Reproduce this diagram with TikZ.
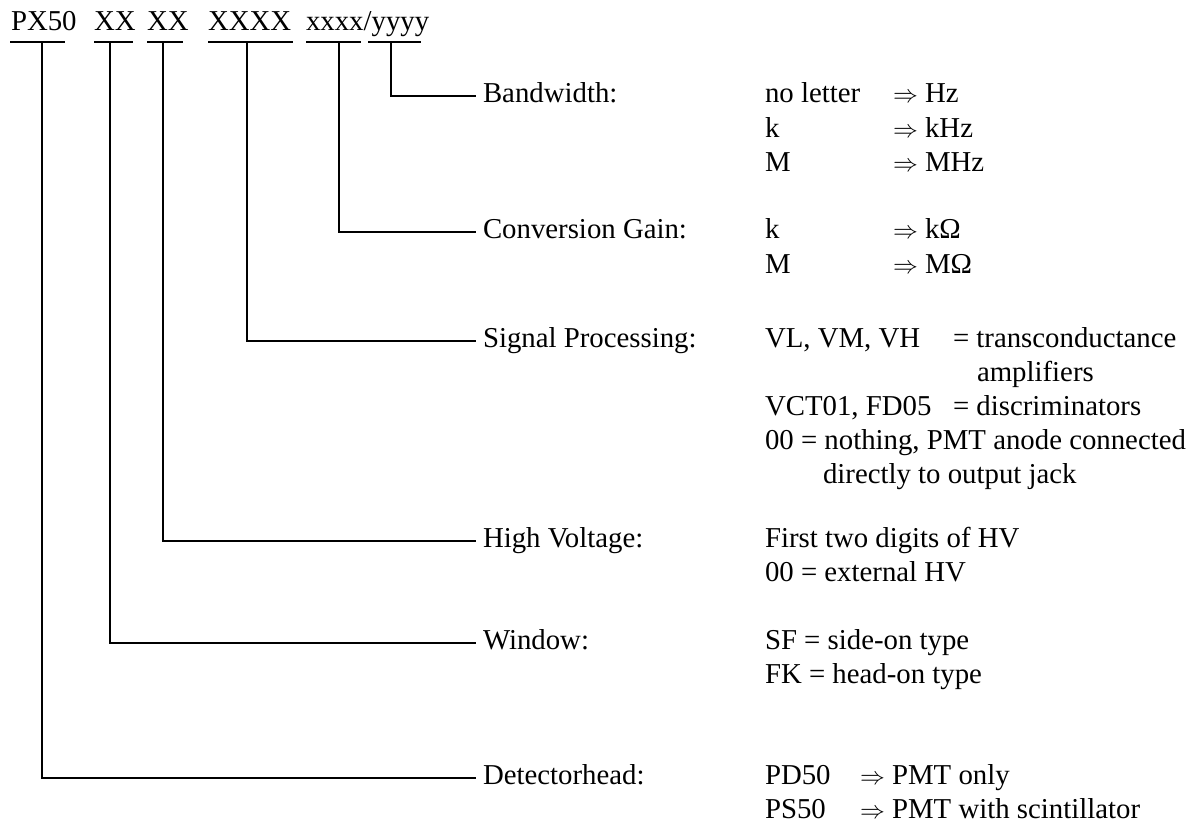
\documentclass[tikz,border=0pt]{standalone}
\usepackage{fontspec}
\setmainfont{Liberation Serif}
\begin{document}
\begin{tikzpicture}[x=1pt,y=-1pt,
  every node/.style={inner sep=0pt, outer sep=0pt, font=\fontsize{28.8}{34}\selectfont},
  hdr/.style={anchor=base west},
  lab/.style={anchor=west, inner xsep=8pt, text height=20pt, text depth=7pt},
  val/.style={anchor=base west},
  conn/.style={line width=1.6pt, line cap=rect},
  uline/.style={line width=1.6pt}]
\useasboundingbox (0,0) rectangle (1204,828);

% header
\node[hdr] (h1) at (11,30.7) {PX50};
\node[hdr] (h2) at (94,30.7) {XX};
\node[hdr] (h3) at (147,30.7) {XX};
\node[hdr] (h4) at (208,30.7) {XXXX};
\node[hdr] (h5) at (306,30.7) {xxxx/yyyy};

\draw[uline] (10,41.7) -- (65,41.7);
\draw[uline] (94,41.7) -- (133,41.7);
\draw[uline] (147,41.7) -- (183,41.7);
\draw[uline] (208,41.7) -- (293,41.7);
\draw[uline] (306,41.7) -- (361,41.7);
\draw[uline] (368,41.7) -- (421,41.7);

\coordinate (t1) at (42,41.7);
\coordinate (t2) at (110,41.7);
\coordinate (t3) at (163,41.7);
\coordinate (t4) at (247,41.7);
\coordinate (t5) at (339,41.7);
\coordinate (t6) at (391,41.7);

% labels
\node[lab] (bw) at (475,96) {Bandwidth:};
\node[lab] (cg) at (475,232) {Conversion Gain:};
\node[lab] (sp) at (475,341) {Signal Processing:};
\node[lab] (hv) at (475,541) {High Voltage:};
\node[lab] (wi) at (475,643) {Window:};
\node[lab] (dh) at (475,778) {Detectorhead:};

% connectors
\draw[conn] (t6) |- (bw.west);
\draw[conn] (t5) |- (cg.west);
\draw[conn] (t4) |- (sp.west);
\draw[conn] (t3) |- (hv.west);
\draw[conn] (t2) |- (wi.west);
\draw[conn] (t1) |- (dh.west);

% Bandwidth values
\node[val] (b1) at (765,102.5) {no letter};
\node[val] (b1r) at (893,102.5) {$\Rightarrow$ Hz};
\node[val] (b2) at (765,137.5) {k};
\node[val] (b2r) at (893,137.5) {$\Rightarrow$ kHz};
\node[val] (b3) at (765,171.5) {M};
\node[val] (b3r) at (893,171.5) {$\Rightarrow$ MHz};

% Conversion gain values
\node[val] (c1) at (765,238.5) {k};
\node[val] (c1r) at (893,238.5) {$\Rightarrow$ kΩ};
\node[val] (c2) at (765,273.5) {M};
\node[val] (c2r) at (893,273.5) {$\Rightarrow$ MΩ};

% Signal processing values
\node[val] (s1) at (765,347.5) {VL, VM, VH};
\node[val] (s1r) at (953,347.5) {= transconductance};
\node[val] (s2r) at (977,381.5) {amplifiers};
\node[val] (s3) at (765,415.5) {VCT01, FD05};
\node[val] (s3r) at (953,415.5) {= discriminators};
\node[val] (s4) at (765,449.5) {00 = nothing, PMT anode connected};
\node[val] (s5) at (823,483.5) {directly to output jack};

% High voltage values
\node[val] (v1) at (765,547.5) {First two digits of HV};
\node[val] (v2) at (765,581.5) {00 = external HV};

% Window values
\node[val] (w1) at (765,649.5) {SF = side-on type};
\node[val] (w2) at (765,683.5) {FK = head-on type};

% Detectorhead values
\node[val] (d1) at (765,784.5) {PD50};
\node[val] (d1r) at (860,784.5) {$\Rightarrow$ PMT only};
\node[val] (d2) at (765,818.5) {PS50};
\node[val] (d2r) at (860,818.5) {$\Rightarrow$ PMT with scintillator};
\end{tikzpicture}
\end{document}
